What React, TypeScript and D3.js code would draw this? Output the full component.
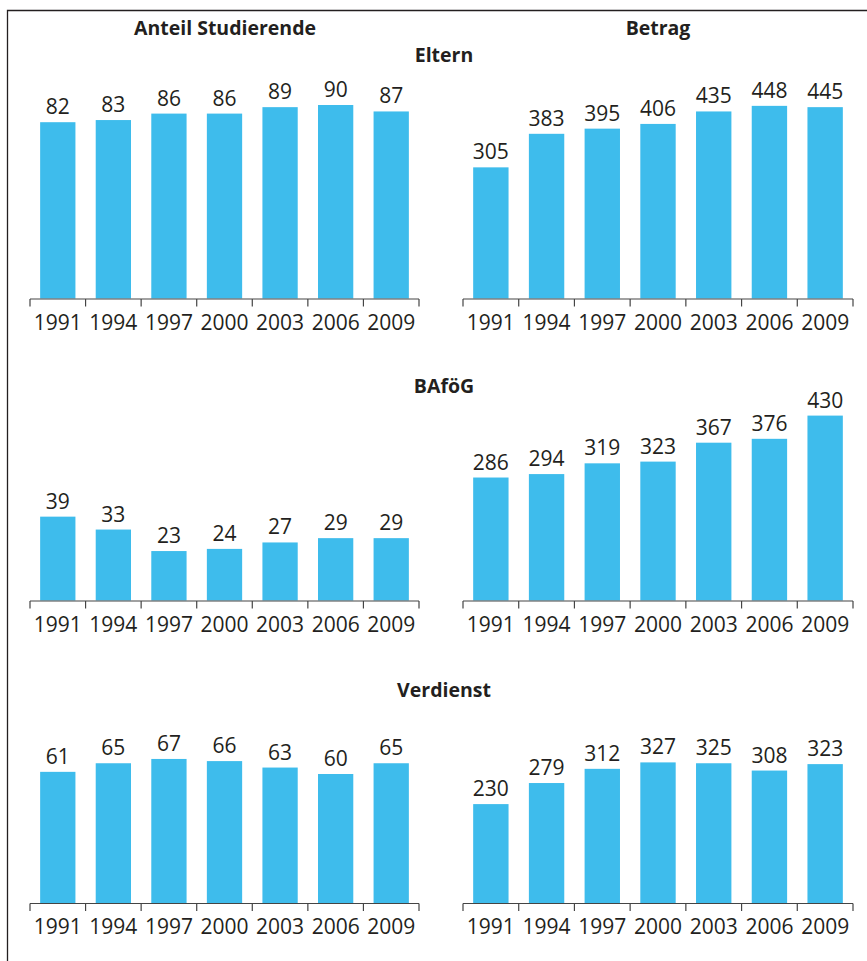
import React, { useEffect, useRef } from 'react';
import * as d3 from 'd3';

// years on every x axis
const years = ['1991', '1994', '1997', '2000', '2003', '2006', '2009'];

// Anteil Studierende (%)
const elternAnteil = [82, 83, 86, 86, 89, 90, 87];
const bafoegAnteil = [39, 33, 23, 24, 27, 29, 29];
const verdienstAnteil = [61, 65, 67, 66, 63, 60, 65];

// Betrag (Euro)
const elternBetrag = [305, 383, 395, 406, 435, 448, 445];
const bafoegBetrag = [286, 294, 319, 323, 367, 376, 430];
const verdienstBetrag = [230, 279, 312, 327, 325, 308, 323];

const rowTitles = ['Eltern', 'BAföG', 'Verdienst'];
const columnTitles = ['Anteil Studierende', 'Betrag'];

const W = 867;
const H = 961;
const BAR = '#3ebcec';
const INK = '#231f20';
const FONT = "'Open Sans', 'Noto Sans', sans-serif";

const App: React.FC = () => {
  const svgRef = useRef<SVGSVGElement>(null);

  useEffect(() => {
    if (!svgRef.current) return;
    const svg = d3.select(svgRef.current);
    svg.selectAll('*').remove();

    // frame (only top and left edges visible)
    svg.append('path')
      .attr('d', `M7.5,${H} V10.5 H${W}`)
      .attr('fill', 'none')
      .attr('stroke', INK)
      .attr('stroke-width', 1.3);

    // column titles
    const colCenters = [225, 658];
    columnTitles.forEach((t, i) => {
      svg.append('text')
        .attr('x', colCenters[i])
        .attr('y', 35)
        .attr('text-anchor', 'middle')
        .attr('font-family', FONT)
        .attr('font-weight', 700)
        .attr('font-size', 19.5)
        .attr('fill', INK)
        .text(t);
    });

    const rows = [
      { title: rowTitles[0], titleY: 62, base: 298.5, left: elternAnteil, right: elternBetrag },
      { title: rowTitles[1], titleY: 393, base: 600.5, left: bafoegAnteil, right: bafoegBetrag },
      { title: rowTitles[2], titleY: 697, base: 903, left: verdienstAnteil, right: verdienstBetrag },
    ];

    const panels = [
      { x0: 30, x1: 419, max: 100, key: 'left' as const },
      { x0: 463, x1: 853, max: 500, key: 'right' as const },
    ];
    const plotH = 215;

    rows.forEach(row => {
      svg.append('text')
        .attr('x', 444)
        .attr('y', row.titleY)
        .attr('text-anchor', 'middle')
        .attr('font-family', FONT)
        .attr('font-weight', 700)
        .attr('font-size', 19.5)
        .attr('fill', INK)
        .text(row.title);

      panels.forEach(p => {
        const values = row[p.key];
        const g = svg.append('g');

        const xBand = d3.scaleBand<string>()
          .domain(years)
          .range([p.x0, p.x1])
          .padding(0);
        const xBar = d3.scaleBand<string>()
          .domain(years)
          .range([p.x0, p.x1])
          .paddingInner(0.365)
          .paddingOuter(0.1825);
        const y = d3.scaleLinear()
          .domain([0, p.max])
          .range([row.base, row.base - plotH]);

        g.selectAll('rect.bar')
          .data(values)
          .enter()
          .append('rect')
          .attr('class', 'bar')
          .attr('x', (_, i) => xBar(years[i]) || 0)
          .attr('width', xBar.bandwidth())
          .attr('y', d => y(d))
          .attr('height', d => row.base - y(d))
          .attr('fill', BAR);

        g.selectAll('text.val')
          .data(values)
          .enter()
          .append('text')
          .attr('class', 'val')
          .attr('x', (_, i) => (xBand(years[i]) || 0) + xBand.bandwidth() / 2)
          .attr('y', d => y(d) - 8)
          .attr('text-anchor', 'middle')
          .attr('font-family', FONT)
          .attr('font-size', 21)
          .attr('fill', INK)
          .text(d => String(d));

        // axis: baseline with ticks at band boundaries
        const ticks = years.map(yr => xBand(yr) || 0).concat([p.x1]);
        g.append('line')
          .attr('x1', p.x0)
          .attr('x2', p.x1)
          .attr('y1', row.base + 0.5)
          .attr('y2', row.base + 0.5)
          .attr('stroke', '#444')
          .attr('stroke-width', 1.2);
        g.selectAll('line.tick')
          .data(ticks)
          .enter()
          .append('line')
          .attr('class', 'tick')
          .attr('x1', d => d)
          .attr('x2', d => d)
          .attr('y1', row.base + 0.5)
          .attr('y2', row.base + 8)
          .attr('stroke', '#444')
          .attr('stroke-width', 1.2);

        g.selectAll('text.year')
          .data(years)
          .enter()
          .append('text')
          .attr('class', 'year')
          .attr('x', d => (xBand(d) || 0) + xBand.bandwidth() / 2)
          .attr('y', row.base + 31)
          .attr('text-anchor', 'middle')
          .attr('font-family', FONT)
          .attr('font-size', 21)
          .attr('fill', INK)
          .text(d => d);
      });
    });
  }, []);

  return (
    <svg
      ref={svgRef}
      width={W}
      height={H}
      style={{ position: 'absolute', left: 0, top: 0, background: '#fff', display: 'block' }}
    />
  );
};

export default App;
